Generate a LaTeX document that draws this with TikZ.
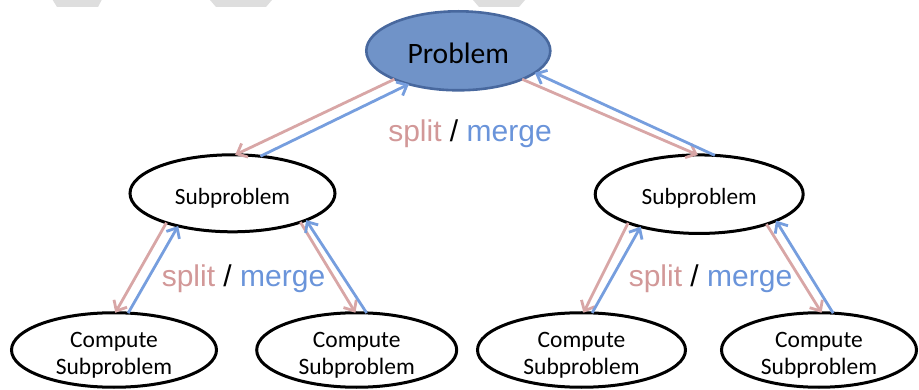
\documentclass[tikz,border=0pt]{standalone}
\usepackage{fontspec}
\setmainfont{Carlito}
\newfontfamily\arialf{Liberation Sans}
\usetikzlibrary{arrows.meta,shapes.geometric}
\definecolor{probfill}{RGB}{112,147,200}
\definecolor{probdraw}{RGB}{72,104,158}
\definecolor{splitc}{RGB}{210,152,152}
\definecolor{mergec}{RGB}{106,148,218}
\definecolor{splitline}{RGB}{216,166,166}
\definecolor{mergeline}{RGB}{118,158,222}
\definecolor{wmgray}{RGB}{222,222,222}
\tikzset{
  oval/.style={ellipse, draw=black, line width=3pt, inner sep=0pt, outer sep=0pt, fill=white},
  probnode/.style={oval, draw=probdraw, line width=2.6pt, fill=probfill, font=\fontsize{29.6}{34}\selectfont},
  subnode/.style={oval, font=\fontsize{23.3}{27}\selectfont},
  compnode/.style={oval, font=\fontsize{23.5}{27}\selectfont},
  splitarrow/.style={draw=splitline, line width=2.8pt, -{Straight Barb[length=8.5pt,width=15pt]}},
  mergearrow/.style={draw=mergeline, line width=2.8pt, -{Straight Barb[length=8.5pt,width=15pt]}},
  lbl/.style={anchor=base, inner sep=0pt, font=\arialf\fontsize{30}{34}\selectfont},
  wm/.style={fill=wmgray}
}
\newcommand{\oneline}[2]{\raisebox{#1}[0pt][0pt]{#2}}
\newcommand{\twolines}[2]{\raisebox{-12.3pt}[0pt][0pt]{\begin{tabular}{@{}c@{}}#1\\#2\end{tabular}}}
\begin{document}
\begin{tikzpicture}[x=1pt,y=-1pt]
\useasboundingbox (0,0) rectangle (919,390);
% watermark fragments
\fill[wm] (52.7,0) -- (101.7,0) -- (98,7) -- (57,7) -- cycle;
\fill[wm] (210,0) -- (272,0) -- (266,7) -- (216,7) -- cycle;
\fill[wm] (473,0) -- (525,0) -- (519,7) -- (479,7) -- cycle;
% nodes
\node[probnode, minimum width=184pt, minimum height=79pt] (prob) at (458.3,50.8) {\oneline{-12.5pt}{Problem}};
\node[subnode, minimum width=205pt, minimum height=77pt] (subL) at (232.5,193.3) {\oneline{-11pt}{Subproblem}};
\node[subnode, minimum width=208pt, minimum height=78.5pt] (subR) at (699.2,194.2) {\oneline{-10.5pt}{Subproblem}};
\node[compnode, minimum width=205pt, minimum height=74.5pt] (cLL) at (114,350) {\twolines{Compute}{Subproblem}};
\node[compnode, minimum width=200pt, minimum height=74.5pt] (cLR) at (356.7,350) {\twolines{Compute}{Subproblem}};
\node[compnode, minimum width=208pt, minimum height=74.5pt] (cRL) at (581.5,350) {\twolines{Compute}{Subproblem}};
\node[compnode, minimum width=195pt, minimum height=74.5pt] (cRR) at (819,350) {\twolines{Compute}{Subproblem}};
% connectors
\draw[splitarrow] (prob.204.5) -- (subL.86.6);
\draw[mergearrow] (subL.53.8) -- (prob.214.2);
\draw[splitarrow] (prob.336.4) -- (subR.92.9);
\draw[mergearrow] (subR.68.9) -- (prob.344.4);
\draw[splitarrow] (subL.204.3) -- (cLL.88.6);
\draw[mergearrow] (cLL.69.8) -- (subL.211.2);
\draw[splitarrow] (subL.337.2) -- (cLR.92.3);
\draw[mergearrow] (cLR.75.3) -- (subL.340.7);
\draw[splitarrow] (subR.202.5) -- (cRL.87.9);
\draw[mergearrow] (cRL.74) -- (subR.209.9);
\draw[splitarrow] (subR.336) -- (cRR.86);
\draw[mergearrow] (cRR.69.6) -- (subR.341.3);
% labels
\node[lbl] (lab1) at (470,141.5) {\textcolor{splitc}{split} / \textcolor{mergec}{merge}};
\node[lbl] (lab2) at (243.5,286.5) {\textcolor{splitc}{split} / \textcolor{mergec}{merge}};
\node[lbl] (lab3) at (710.5,286.5) {\textcolor{splitc}{split} / \textcolor{mergec}{merge}};
\end{tikzpicture}
\end{document}
